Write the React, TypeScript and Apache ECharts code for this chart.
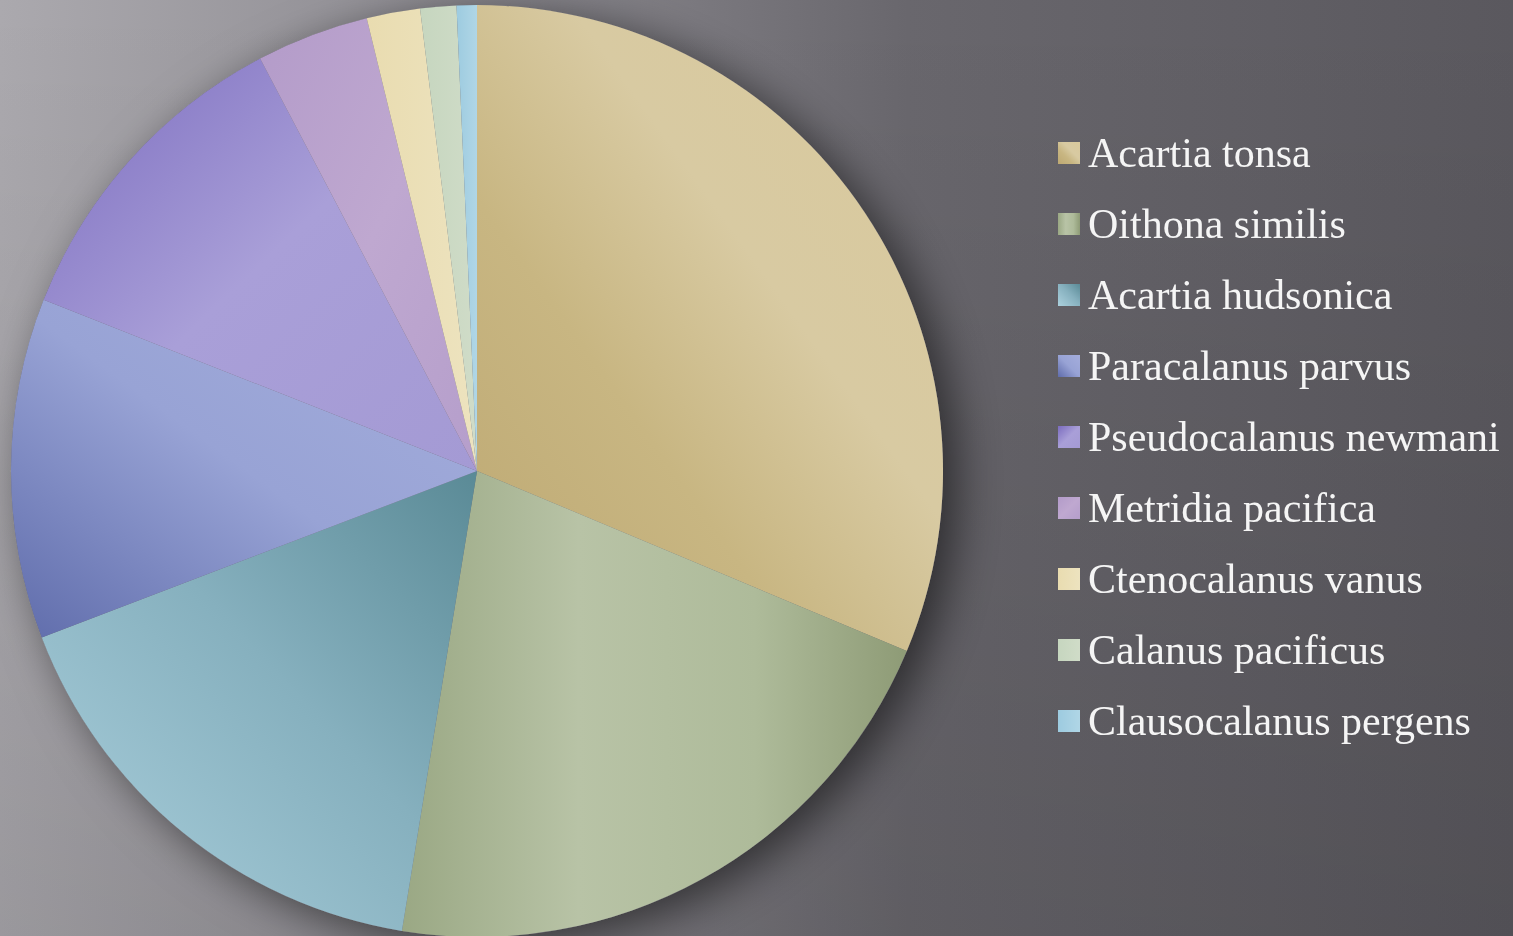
import React, { useEffect, useRef } from "react";
import * as echarts from "echarts";

const species: string[] = [
  "Acartia tonsa",
  "Oithona similis",
  "Acartia hudsonica",
  "Paracalanus parvus",
  "Pseudocalanus newmani",
  "Metridia pacifica",
  "Ctenocalanus vanus",
  "Calanus pacificus",
  "Clausocalanus pergens",
];

const percentages: number[] = [31.3, 21.25, 16.6, 11.8, 11.3, 3.9, 1.85, 1.25, 0.7];

// gradient stops per slice (start -> end)
const sliceGradients: { dir: number[]; stops: [number, string][] }[] = [
  { dir: [0, 1, 1, 0], stops: [[0, "#bda872"], [0.35, "#c8b682"], [0.6, "#d8caa2"], [1, "#d9c99c"]] },
  { dir: [0, 0, 1, 0], stops: [[0, "#9aa884"], [0.35, "#b8c3a6"], [0.7, "#aebb9a"], [1, "#8e9b76"]] },
  { dir: [1, 0, 0, 1], stops: [[0, "#5a8a96"], [0.45, "#86b0be"], [1, "#acd1de"]] },
  { dir: [0, 1, 1, 0], stops: [[0, "#5f6cab"], [0.5, "#98a3d5"], [1, "#a4addc"]] },
  { dir: [0, 0, 1, 1], stops: [[0, "#7b6cbf"], [0.5, "#a99fd8"], [1, "#a49ad4"]] },
  { dir: [0, 0, 1, 1], stops: [[0, "#b39bc9"], [0.5, "#bfa8d0"], [1, "#b59ecb"]] },
  { dir: [0, 0, 1, 0], stops: [[0, "#e9dcb0"], [1, "#ede3bf"]] },
  { dir: [0, 0, 1, 0], stops: [[0, "#c6d6bf"], [1, "#d0dcc8"]] },
  { dir: [0, 0, 1, 0], stops: [[0, "#9dcbe0"], [1, "#b0d6e6"]] },
];

function grad(i: number) {
  const g = sliceGradients[i];
  return new echarts.graphic.LinearGradient(
    g.dir[0], g.dir[1], g.dir[2], g.dir[3],
    g.stops.map(([offset, color]) => ({ offset, color }))
  );
}

export default function App() {
  const ref = useRef<HTMLDivElement>(null);
  useEffect(() => {
    if (!ref.current) return;
    const chart = echarts.init(ref.current, null, { renderer: "svg" });
    chart.setOption({
      animation: false,
      graphic: [
        {
          type: "rect",
          z: -10,
          silent: true,
          shape: { x: 0, y: 0, width: 1513, height: 936 },
          style: {
            fill: new echarts.graphic.LinearGradient(0, 0, 1, 0, [
              { offset: 0, color: "#aba9ae" },
              { offset: 0.3, color: "#8e8c92" },
              { offset: 0.6, color: "#69676d" },
              { offset: 1, color: "#5a585e" },
            ]),
          },
        },
        {
          type: "rect",
          z: -9,
          silent: true,
          shape: { x: 0, y: 0, width: 1513, height: 936 },
          style: {
            fill: new echarts.graphic.LinearGradient(0, 0, 0, 1, [
              { offset: 0, color: "rgba(0,0,0,0)" },
              { offset: 1, color: "rgba(0,0,0,0.1)" },
            ]),
          },
        },
      ],
      legend: {
        orient: "vertical",
        left: 1058,
        top: 132,
        padding: 0,
        icon: "rect",
        itemWidth: 22,
        itemHeight: 22,
        itemGap: 29,
        data: species,
        selectedMode: false,
        textStyle: {
          fontFamily: "'Liberation Serif', 'Times New Roman', serif",
          fontSize: 42,
          lineHeight: 42,
          color: "#f5f5f5",
          padding: [0, 0, 0, 3],
        },
      },
      series: [
        {
          type: "pie",
          name: "shadow",
          silent: true,
          z: 1,
          center: [477, 471],
          radius: 466,
          label: { show: false },
          labelLine: { show: false },
          data: [{ value: 1, name: "_shadow" }],
          itemStyle: {
            color: "#6a6870",
            shadowColor: "rgba(0,0,0,0.55)",
            shadowBlur: 45,
            shadowOffsetX: 14,
            shadowOffsetY: 10,
          },
        },
        {
          type: "pie",
          name: "Copepods",
          z: 3,
          center: [477, 471],
          radius: 466,
          startAngle: 90,
          clockwise: true,
          label: { show: false },
          labelLine: { show: false },
          emphasis: { disabled: true },
          data: species.map((name, i) => ({
            name,
            value: percentages[i],
            itemStyle: { color: grad(i), borderWidth: 0 },
          })),
        },
      ],
    });
    return () => chart.dispose();
  }, []);
  return (
    <div
      ref={ref}
      style={{ position: "fixed", left: 0, top: 0, width: 1513, height: 936 }}
    />
  );
}
